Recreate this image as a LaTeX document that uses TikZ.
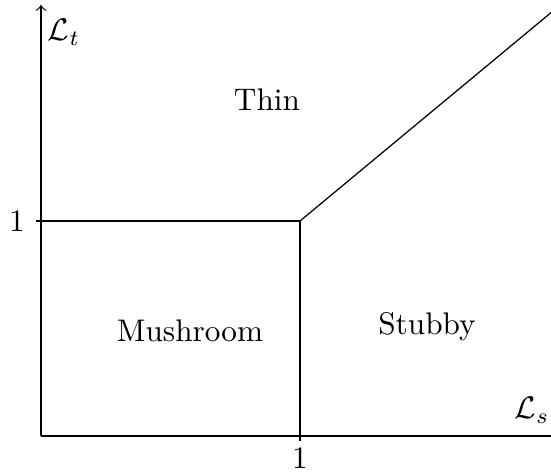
\documentclass[tikz,border=0pt]{standalone}
\begin{document}
\begin{tikzpicture}[x=0.32pt,y=-0.32pt,line width=0.4pt,
  lbl/.style={inner sep=0pt}]
\useasboundingbox (0,0) rectangle (551,474);
\coordinate (O) at (41,436);
\coordinate (P) at (300,221);
\coordinate (Ytop) at (41,5);
\coordinate (Xend) at (559,436);
\coordinate (Dend) at (559,6);
\coordinate (Ty) at (36,221);
\coordinate (Tx) at (300,441);
\draw[->] (O) -- (Ytop);
\draw[->] (O) -- (Xend);
\draw (Ty) -- (P);
\draw (Tx) -- (P);
\draw (P) -- (Dend);
\node[lbl] (lt) at (64,32) {$\mathcal{L}_t$};
\node[lbl] (ls) at (532,410) {$\mathcal{L}_s$};
\node[lbl] (one1) at (17,221) {$1$};
\node[lbl] (one2) at (300,458) {$1$};
\node[lbl] (thin) at (267,100) {Thin};
\node[lbl] (mush) at (190,331) {Mushroom};
\node[lbl] (stub) at (427,327) {Stubby};
\end{tikzpicture}
\end{document}
